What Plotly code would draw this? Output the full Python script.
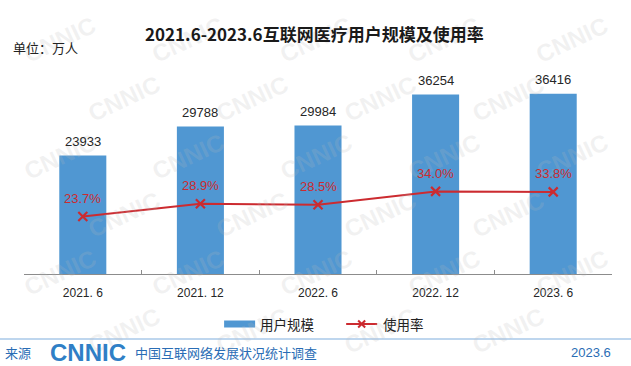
import plotly.graph_objects as go

categories = ["2021. 6", "2021. 12", "2022. 6", "2022. 12", "2023. 6"]
users = [23933, 29788, 29984, 36254, 36416]
rate = [0.237, 0.289, 0.285, 0.340, 0.338]

W, H = 631, 366
L, R, T, B = 24, 19.3, 76, 92
PW, PH = W - L - R, H - T - B

def px(x):
    return (x - L) / PW

def py(y):
    return (H - B - y) / PH

FONT = "Liberation Sans, Arial, Noto Sans CJK SC"
CJK = "Noto Sans CJK SC, Liberation Sans"
BLUE = "#5097d2"
RED = "#cc2b30"

fig = go.Figure()
fig.add_trace(go.Bar(x=categories, y=users, marker=dict(color=BLUE, line=dict(width=0)),
                     width=0.4, name="用户规模", yaxis="y", hoverinfo="skip"))
fig.add_trace(go.Scatter(x=categories, y=rate, mode="lines+markers", name="使用率",
                         line=dict(color=RED, width=2),
                         marker=dict(symbol="x-thin", size=9, line=dict(color=RED, width=2.2)),
                         yaxis="y2", hoverinfo="skip"))

ann = []

def note(xp, yp, text, font, xanchor="center", **kw):
    d = dict(x=px(xp), y=py(yp), xref="paper", yref="paper", text=text, showarrow=False,
             xanchor=xanchor, yanchor="middle", font=font)
    d.update(kw)
    ann.append(d)

# watermark (kept inside the page)
for r in range(6):
    for c in range(6):
        xp = 60 + c * 128 + (-64 if r % 2 else 0)
        yp = 40 + r * 58
        if 45 <= xp <= 590 and 35 <= yp <= 330:
            note(xp, yp, "<b>CNNIC</b>",
                 dict(family="Liberation Sans", size=24, color="rgba(185,185,185,0.2)"),
                 textangle=-25)

for c, u in zip(categories, users):
    ann.append(dict(x=c, y=u, xref="x", yref="y", text=str(u), showarrow=False, yshift=14,
                    yanchor="middle", font=dict(family=FONT, size=13, color="#262626")))
for c, v in zip(categories, rate):
    ann.append(dict(x=c, y=v, xref="x", yref="y2", text=f"{v*100:.1f}%", showarrow=False, yshift=18,
                    yanchor="middle", font=dict(family=FONT, size=13, color=RED)))

# title & unit
note(314, 33, "<b>2021.6-2023.6互联网医疗用户规模及使用率</b>",
     dict(family=CJK, size=17, color="#1a1a1a"))
note(11, 47, "单位：万人", dict(family=CJK, size=13, color="#222222"), xanchor="left")

# legend
note(258, 324, "用户规模", dict(family=CJK, size=13.5, color="#222222"), xanchor="left")
note(381, 324, "使用率", dict(family=CJK, size=13.5, color="#222222"), xanchor="left")

# footer
note(3, 352, "来源", dict(family=CJK, size=13, color="#2a6db5"), xanchor="left")
note(48, 352, "<b>CNNIC</b>", dict(family="Liberation Sans", size=24, color="#2f7fc6"), xanchor="left")
note(133, 352, "中国互联网络发展状况统计调查", dict(family=CJK, size=13, color="#2a6db5"), xanchor="left")
note(613, 352, "2023.6", dict(family=FONT, size=13, color="#2a6db5"), xanchor="right")

shapes = [
    dict(type="rect", xref="paper", yref="paper", x0=px(224), x1=px(255), y0=py(320.5), y1=py(327.5),
         fillcolor=BLUE, line=dict(width=0)),
    dict(type="line", xref="paper", yref="paper", x0=px(346), x1=px(377), y0=py(324), y1=py(324),
         line=dict(color=RED, width=2)),
    dict(type="line", xref="paper", yref="paper", x0=px(358), x1=px(365), y0=py(320.5), y1=py(327.5),
         line=dict(color=RED, width=2)),
    dict(type="line", xref="paper", yref="paper", x0=px(358), x1=px(365), y0=py(327.5), y1=py(320.5),
         line=dict(color=RED, width=2)),
    dict(type="line", xref="paper", yref="paper", x0=px(0), x1=px(631), y0=py(339), y1=py(339),
         line=dict(color="#a8c8e8", width=1.5)),
]

fig.update_layout(
    width=W, height=H, autosize=False,
    margin=dict(l=L, r=R, t=T, b=B),
    paper_bgcolor="white", plot_bgcolor="rgba(0,0,0,0)",
    showlegend=False, hovermode=False,
    annotations=ann, shapes=shapes,
    xaxis=dict(type="category", range=[-0.5, 4.5], showline=True, linecolor="#8c8c8c", linewidth=1,
               ticks="inside", tickson="boundaries", ticklen=4, tickcolor="#8c8c8c",
               ticklabelstandoff=8,
               tickfont=dict(family="Liberation Sans", size=12, color="#262626"),
               showgrid=False, zeroline=False, fixedrange=True),
    yaxis=dict(range=[0, 40000], visible=False, showgrid=False, zeroline=False, fixedrange=True),
    yaxis2=dict(range=[0, 0.815], overlaying="y", visible=False, showgrid=False, zeroline=False,
                fixedrange=True),
)

fig.write_html("out.html", config={"displayModeBar": False, "staticPlot": True},
               post_script="document.body.style.margin='0';")
